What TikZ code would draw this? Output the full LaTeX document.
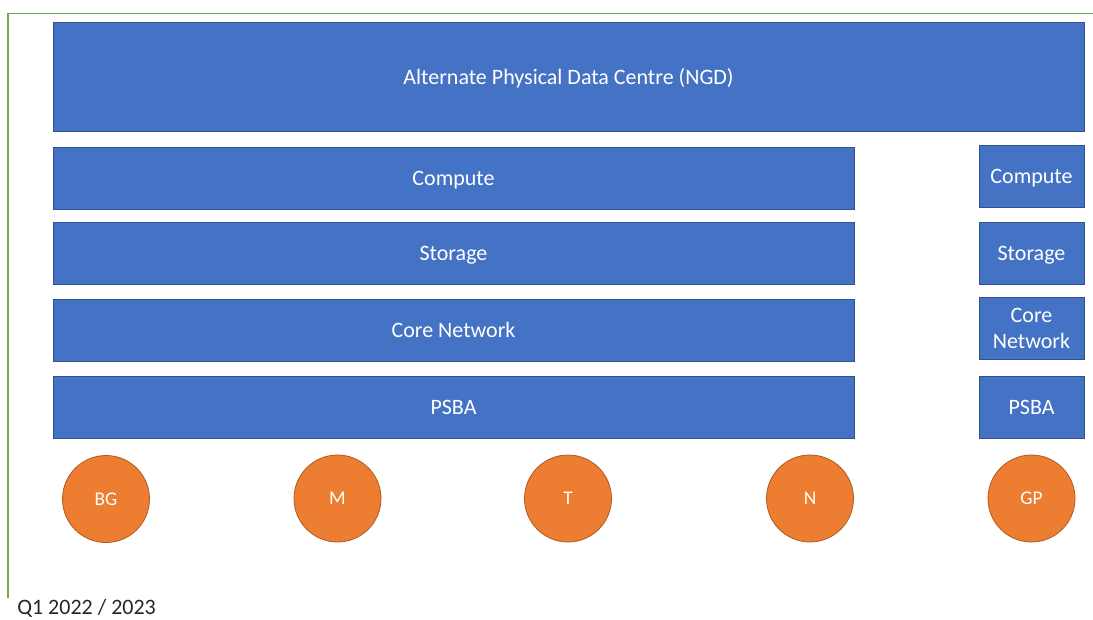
\documentclass[tikz,border=0pt]{standalone}
\usepackage{fontspec}
\setmainfont{Carlito}
\definecolor{layerblue}{HTML}{4472C4}
\definecolor{layeredge}{HTML}{2F528F}
\definecolor{siteorange}{HTML}{ED7D31}
\definecolor{siteedge}{HTML}{AE5A21}
\definecolor{framegreen}{HTML}{70AD47}
\tikzset{
	layer/.style={draw=layeredge, fill=layerblue, line width=0.6pt, inner sep=0pt, outer sep=0pt, text=white, align=center, text depth=0pt, font=\fontsize{16.5}{19.5}\selectfont, minimum height=46.5pt},
	wide/.style={layer, minimum width=600.75pt},
	narrow/.style={layer, minimum width=78.75pt},
	site/.style={circle, draw=siteedge, fill=siteorange, line width=0.6pt, inner sep=0pt, minimum size=65.25pt, text=white, font=\fontsize{14.5}{17}\selectfont}
}
\begin{document}
\begin{tikzpicture}[x=0.75pt, y=-0.75pt]
		\useasboundingbox (0,0) rectangle (1093,619);
		\draw[color=framegreen, line width=1.1pt] (8,598) -- (8,13.5) -- (1093,13.5);

		\node[layer, minimum width=773.25pt, minimum height=81.75pt] (ngd) at (568.5,76.5) {Alternate Physical Data Centre (NGD)};

		\node[wide] (compute) at (453.5,178) {Compute};
		\node[wide] (storage) at (453.5,253) {Storage};
		\node[wide] (network) at (453.5,330) {Core Network};
		\node[wide] (psba) at (453.5,407) {PSBA};

		\node[narrow] (gpcompute) at (1031.5,176) {Compute};
		\node[narrow] (gpstorage) at (1031.5,253.5) {Storage};
		\node[narrow] (gpnetwork) at (1031.5,328.5) {Core\\Network};
		\node[narrow] (gppsba) at (1031.5,407) {PSBA};

		\node[site] (bg) at (106,499) {BG};
		\node[site] (m) at (337.5,498.5) {M};
		\node[site] (t) at (568,498.5) {T};
		\node[site] (n) at (810,498.5) {N};
		\node[site] (gp) at (1031.5,498.5) {GP};

		\node[anchor=base west, inner sep=0pt, text=black!85, font=\fontsize{16.5}{19.5}\selectfont] (quarter) at (17,614) {Q1 2022 / 2023};
	\end{tikzpicture}
\end{document}
